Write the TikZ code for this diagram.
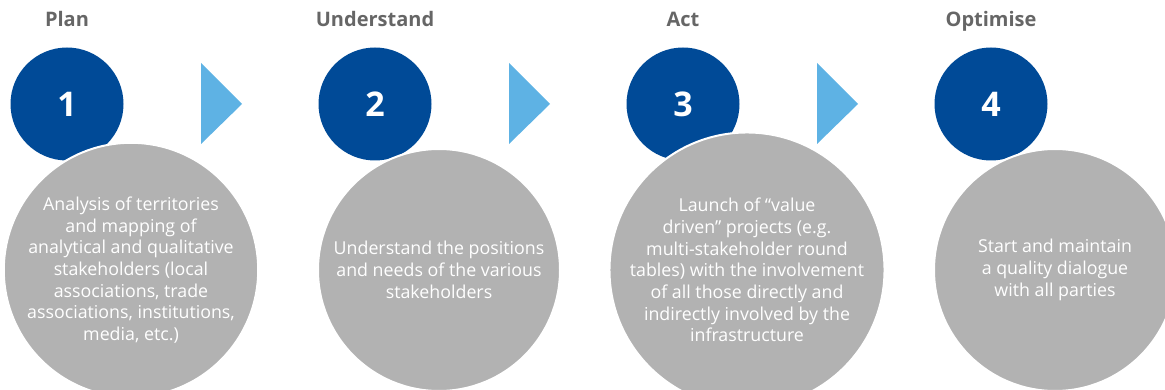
\documentclass[tikz,border=0pt]{standalone}
\usepackage{fontspec}
\setmainfont{Open Sans}
\usetikzlibrary{positioning}

\definecolor{stepblue}{HTML}{004A97}
\definecolor{arrowblue}{HTML}{5EB2E4}
\definecolor{descgray}{HTML}{B2B2B2}
\definecolor{titlegray}{HTML}{666666}

\begin{document}
\begin{tikzpicture}[x=1pt,y=-1pt,
  numcircle/.style={circle,fill=stepblue,minimum size=113pt,inner sep=0pt,text=white,font=\bfseries\fontsize{34}{34}\selectfont},
  desccircle/.style={circle,fill=descgray,draw=white,line width=2pt,minimum size=242pt,inner sep=0pt,text=white,align=center,font=\fontsize{17.8}{21.7}\selectfont},
  steptitle/.style={anchor=base,text=titlegray,font=\bfseries\fontsize{20}{20}\selectfont},
  arrowtri/.style={fill=arrowblue}]
  \useasboundingbox (0,0) rectangle (1165,390);

  % titles
  \node[steptitle] (t1) at (67,27) {Plan};
  \node[steptitle] (t2) at (375,27) {Understand};
  \node[steptitle] (t3) at (683,27) {Act};
  \node[steptitle] (t4) at (991,27) {Optimise};

  % numbered circles
  \node[numcircle] (n1) at (67,104) {1};
  \node[numcircle] (n2) at (375,104) {2};
  \node[numcircle] (n3) at (683,104) {3};
  \node[numcircle] (n4) at (991,104) {4};

  % arrow heads between steps
  \fill[arrowtri] (201,63) -- (242,104) -- (201,144) -- cycle;
  \fill[arrowtri] (509,63) -- (550,104) -- (509,144) -- cycle;
  \fill[arrowtri] (817,63) -- (858,104) -- (817,144) -- cycle;

  % description circles
  \node[desccircle] (d1) at (131,270) {Analysis of territories\\and mapping of\\analytical and qualitative\\stakeholders (local\\associations, trade\\associations, institutions,\\media, etc.)};
  \node[desccircle] (d2) at (439,270) {Understand the positions\\and needs of the various\\stakeholders};
  \node[desccircle] (d3) at (747,270) {Launch of “value\\driven” projects (e.g.\\multi-stakeholder round\\tables) with the involvement\\of all those directly and\\indirectly involved by the\\infrastructure};
  \node[desccircle] (d4) at (1055,270) {Start and maintain\\a quality dialogue\\with all parties};
\end{tikzpicture}
\end{document}
